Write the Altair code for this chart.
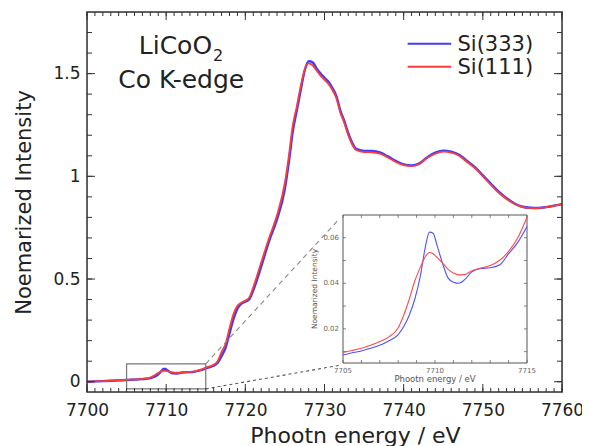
import altair as alt
import pandas as pd

FONT = "DejaVu Sans"
BLUE = "#3d3dff"
RED = "#ff3a3a"
TXT = "#222222"

# ---------------- data ----------------
low_E = [7700, 7701, 7702, 7703, 7704]
low_blue = [0.000, 0.0015, 0.003, 0.0045, 0.0065]
low_red = [0.000, 0.002, 0.003, 0.005, 0.007]

pre_E = [7705, 7705.5, 7706, 7706.5, 7707, 7707.5, 7708, 7708.3, 7708.6, 7708.9,
         7709.2, 7709.5, 7709.7, 7709.9, 7710.1, 7710.4, 7710.7, 7711, 7711.3, 7711.6,
         7712, 7712.5, 7713, 7713.5, 7714, 7714.5, 7715]
pre_red = [0.0096, 0.0105, 0.0115, 0.0128, 0.0144, 0.0165, 0.0205, 0.026, 0.033, 0.041,
           0.047, 0.052, 0.0535, 0.053, 0.0515, 0.049, 0.0462, 0.0445, 0.0437, 0.0438,
           0.0455, 0.0467, 0.0478, 0.050, 0.054, 0.060, 0.069]
pre_blue = [0.0085, 0.0095, 0.0103, 0.0115, 0.0128, 0.0148, 0.0175, 0.021, 0.026, 0.033,
            0.043, 0.057, 0.0625, 0.062, 0.057, 0.049, 0.0425, 0.0405, 0.040, 0.0415,
            0.045, 0.0465, 0.0468, 0.048, 0.053, 0.058, 0.065]

edge_E = [7715.5, 7716, 7716.5, 7717, 7717.5, 7718, 7718.5, 7719, 7719.5, 7720, 7720.5, 7721,
          7722, 7723, 7724, 7725,
          7725.5, 7726, 7726.5, 7727, 7727.5, 7728, 7728.5, 7729, 7729.5, 7730, 7730.5, 7731,
          7731.5, 7732, 7732.5, 7733, 7733.5,
          7734, 7735, 7736, 7737, 7738, 7739, 7740, 7741, 7742, 7743, 7744, 7745, 7746, 7747,
          7748, 7749, 7750, 7751, 7752, 7753, 7754, 7755, 7756, 7757, 7758, 7759, 7760]
edge_red = [0.075, 0.083, 0.10, 0.145, 0.185, 0.26, 0.33, 0.37, 0.385, 0.395, 0.41, 0.46,
            0.58, 0.70, 0.81, 0.97,
            1.10, 1.25, 1.34, 1.44, 1.52, 1.55, 1.54, 1.515, 1.49, 1.47, 1.45, 1.42,
            1.38, 1.31, 1.26, 1.20, 1.155,
            1.128, 1.118, 1.117, 1.11, 1.092, 1.07, 1.055, 1.05, 1.06, 1.09, 1.11, 1.12, 1.115, 1.10,
            1.07, 1.04, 1.00, 0.96, 0.92, 0.89, 0.865, 0.85, 0.845, 0.845, 0.85, 0.857, 0.865]
edge_blue = [0.071, 0.078, 0.092, 0.125, 0.165, 0.235, 0.305, 0.355, 0.38, 0.39, 0.402, 0.445,
             0.56, 0.685, 0.79, 0.94,
             1.07, 1.22, 1.32, 1.42, 1.515, 1.56, 1.555, 1.525, 1.50, 1.48, 1.46, 1.43,
             1.39, 1.32, 1.27, 1.21, 1.163,
             1.134, 1.124, 1.123, 1.116, 1.097, 1.075, 1.058, 1.053, 1.063, 1.093, 1.115, 1.125, 1.12, 1.105,
             1.075, 1.045, 1.005, 0.965, 0.925, 0.893, 0.868, 0.852, 0.847, 0.846, 0.85, 0.857, 0.865]

series_names = ["Si(333)", "Si(111)"]
series_colors = [BLUE, RED]

x_major = [7700, 7710, 7720, 7730, 7740, 7750, 7760]
x_minor = list(range(7700, 7761))
y_major = [0, 0.5, 1, 1.5]
y_minor = [round(0.1 * i, 1) for i in range(0, 18)]

inset_x_labels = [7705, 7710, 7715]
inset_x_ticks = list(range(7705, 7716))
inset_y_labels = [0.02, 0.04, 0.06]
inset_y_ticks = [0.01, 0.02, 0.03, 0.04, 0.05, 0.06]

# ---------------- layout constants ----------------
W, H = 475, 380
X_DOM = [7700, 7760]
Y_DOM = [-0.05, 1.8]
IX_DOM = [7705, 7715]
IY_DOM = [0.005, 0.07]
IX_RANGE = [256, 440]
IY_RANGE = [351, 203]

main_df = pd.DataFrame({
    "E": low_E + pre_E + edge_E,
    "blue": low_blue + pre_blue + edge_blue,
    "red": low_red + pre_red + edge_red,
})
inset_df = pd.DataFrame({"E": pre_E, "blue": pre_blue, "red": pre_red})

xs = alt.Scale(domain=X_DOM, nice=False, zero=False)
ys = alt.Scale(domain=Y_DOM, nice=False, zero=False)
ixs = alt.Scale(domain=IX_DOM, range=IX_RANGE, nice=False, zero=False)
iys = alt.Scale(domain=IY_DOM, range=IY_RANGE, nice=False, zero=False)

x_axis = alt.Axis(values=x_major, format="d", ticks=False, domain=False, grid=False,
                  labelFont=FONT, labelFontSize=17, labelColor=TXT, labelPadding=10,
                  labelFlush=False, orient="bottom",
                  title="Phootn energy / eV", titleFont=FONT, titleFontSize=22,
                  titleFontWeight="normal", titleColor=TXT, titleX=268, titleY=50,
                  titleBaseline="alphabetic", titleAlign="center")
y_axis = alt.Axis(values=y_major, format="~g", ticks=False, domain=False, grid=False,
                  labelFont=FONT, labelFontSize=17, labelColor=TXT, labelPadding=7,
                  orient="left",
                  title="Noemarized Intensity", titleFont=FONT, titleFontSize=21,
                  titleFontWeight="normal", titleColor=TXT, titleX=-63, titleY=190,
                  titleAngle=270, titleBaseline="middle", titleAlign="center")

base = alt.Chart(main_df)

blue_line = base.mark_line(color=BLUE, strokeWidth=2.4, interpolate="monotone", clip=True).encode(
    x=alt.X("E:Q", scale=xs, axis=x_axis),
    y=alt.Y("blue:Q", scale=ys, axis=y_axis),
)
red_line = base.mark_line(color=RED, strokeWidth=1.8, interpolate="monotone", clip=True).encode(
    x=alt.X("E:Q", scale=xs, axis=None),
    y=alt.Y("red:Q", scale=ys, axis=None),
)

# zoom box and connectors
box_df = pd.DataFrame({"x": [7705], "x2": [7715], "y": [-0.035], "y2": [0.087]})
box = alt.Chart(box_df).mark_rect(fill=None, stroke="#777777", strokeWidth=1.2).encode(
    x=alt.X("x:Q", scale=xs, axis=None), x2="x2:Q",
    y=alt.Y("y:Q", scale=ys, axis=None), y2="y2:Q")

dash_df = pd.DataFrame({"x": [7715], "x2": [7731.8], "y": [0.087], "y2": [0.79]})
dashed = alt.Chart(dash_df).mark_rule(color="#888888", strokeWidth=1.1, strokeDash=[5, 4]).encode(
    x=alt.X("x:Q", scale=xs, axis=None), x2="x2:Q",
    y=alt.Y("y:Q", scale=ys, axis=None), y2="y2:Q")
dot_df = pd.DataFrame({"x": [7715], "x2": [7731.9], "y": [-0.035], "y2": [0.08]})
dotted = alt.Chart(dot_df).mark_rule(color="#555555", strokeWidth=1.1, strokeDash=[3, 3]).encode(
    x=alt.X("x:Q", scale=xs, axis=None), x2="x2:Q",
    y=alt.Y("y:Q", scale=ys, axis=None), y2="y2:Q")

# inward ticks on all four sides
TICK = "#333333"
def xticks(vals, length):
    d = pd.DataFrame({"v": vals})
    bot = alt.Chart(d).mark_rule(color=TICK, strokeWidth=1).encode(
        x=alt.X("v:Q", scale=xs, axis=None), y=alt.value(H), y2=alt.value(H - length))
    top = alt.Chart(d).mark_rule(color=TICK, strokeWidth=1).encode(
        x=alt.X("v:Q", scale=xs, axis=None), y=alt.value(0), y2=alt.value(length))
    return [bot, top]

def yticks(vals, length):
    d = pd.DataFrame({"v": vals})
    left = alt.Chart(d).mark_rule(color=TICK, strokeWidth=1).encode(
        y=alt.Y("v:Q", scale=ys, axis=None), x=alt.value(0), x2=alt.value(length))
    right = alt.Chart(d).mark_rule(color=TICK, strokeWidth=1).encode(
        y=alt.Y("v:Q", scale=ys, axis=None), x=alt.value(W), x2=alt.value(W - length))
    return [left, right]

tick_layers = xticks(x_minor, 4) + xticks(x_major, 8) + yticks(y_minor, 5) + yticks(y_major, 8)

# frame
frame_main = alt.Chart(pd.DataFrame({"x": [X_DOM[0]], "x2": [X_DOM[1]], "y": [Y_DOM[0]], "y2": [Y_DOM[1]]})).mark_rect(
    fill=None, stroke="#333333", strokeWidth=1.5).encode(
    x=alt.X("x:Q", scale=xs, axis=None), x2="x2:Q",
    y=alt.Y("y:Q", scale=ys, axis=None), y2="y2:Q")

# annotation text
ann1 = alt.Chart(pd.DataFrame({"x": [7715.8], "y": [1.597], "t": ["LiCoO"]})).mark_text(
    font=FONT, fontSize=25, color=TXT, align="right", baseline="alphabetic").encode(
    x=alt.X("x:Q", scale=xs, axis=None), y=alt.Y("y:Q", scale=ys, axis=None), text="t:N")
ann2 = alt.Chart(pd.DataFrame({"x": [7715.9], "y": [1.563], "t": ["2"]})).mark_text(
    font=FONT, fontSize=16, color=TXT, align="left", baseline="alphabetic").encode(
    x=alt.X("x:Q", scale=xs, axis=None), y=alt.Y("y:Q", scale=ys, axis=None), text="t:N")
ann3 = alt.Chart(pd.DataFrame({"x": [7711.9], "y": [1.432], "t": ["Co K-edge"]})).mark_text(
    font=FONT, fontSize=25, color=TXT, align="center", baseline="alphabetic").encode(
    x=alt.X("x:Q", scale=xs, axis=None), y=alt.Y("y:Q", scale=ys, axis=None), text="t:N")

# legend
leg_df = pd.DataFrame({"s": series_names, "x1": [7740.5, 7740.5], "x2": [7746.0, 7746.0],
                       "y": [1.646, 1.534], "tx": [7746.8, 7746.8], "ty": [1.612, 1.500]})
color_scale = alt.Scale(domain=series_names, range=series_colors)
leg_lines = alt.Chart(leg_df).mark_rule(strokeWidth=2).encode(
    x=alt.X("x1:Q", scale=xs, axis=None), x2="x2:Q",
    y=alt.Y("y:Q", scale=ys, axis=None),
    color=alt.Color("s:N", scale=color_scale, legend=None))
leg_text = alt.Chart(leg_df).mark_text(font=FONT, fontSize=21, color=TXT, align="left",
                                       baseline="alphabetic").encode(
    x=alt.X("tx:Q", scale=xs, axis=None), y=alt.Y("ty:Q", scale=ys, axis=None), text="s:N")

main_layers = [blue_line, red_line, box, dashed, dotted, *tick_layers, frame_main,
               ann1, ann2, ann3, leg_lines, leg_text]

# ---------------- inset ----------------
ITXT = "#666666"
frame_df = pd.DataFrame({"x": [IX_DOM[0]], "x2": [IX_DOM[1]], "y": [IY_DOM[0]], "y2": [IY_DOM[1]]})
iframe = alt.Chart(frame_df).mark_rect(fill="white", stroke="#555555", strokeWidth=1).encode(
    x=alt.X("x:Q", scale=ixs, axis=None), x2="x2:Q",
    y=alt.Y("y:Q", scale=iys, axis=None), y2="y2:Q")

ibase = alt.Chart(inset_df)
iblue = ibase.mark_line(color="#5050ff", strokeWidth=1.1, interpolate="monotone", clip=True).encode(
    x=alt.X("E:Q", scale=ixs, axis=None), y=alt.Y("blue:Q", scale=iys, axis=None))
ired = ibase.mark_line(color="#ff4a4a", strokeWidth=1.1, interpolate="monotone", clip=True).encode(
    x=alt.X("E:Q", scale=ixs, axis=None), y=alt.Y("red:Q", scale=iys, axis=None))

ITICK = "#666666"
ixt = pd.DataFrame({"v": inset_x_ticks})
iyt = pd.DataFrame({"v": inset_y_ticks})
i_ticks = [
    alt.Chart(ixt).mark_rule(color=ITICK, strokeWidth=0.8).encode(
        x=alt.X("v:Q", scale=ixs, axis=None), y=alt.value(IY_RANGE[0]), y2=alt.value(IY_RANGE[0] - 3)),
    alt.Chart(ixt).mark_rule(color=ITICK, strokeWidth=0.8).encode(
        x=alt.X("v:Q", scale=ixs, axis=None), y=alt.value(IY_RANGE[1]), y2=alt.value(IY_RANGE[1] + 3)),
    alt.Chart(iyt).mark_rule(color=ITICK, strokeWidth=0.8).encode(
        y=alt.Y("v:Q", scale=iys, axis=None), x=alt.value(IX_RANGE[0]), x2=alt.value(IX_RANGE[0] + 3)),
    alt.Chart(iyt).mark_rule(color=ITICK, strokeWidth=0.8).encode(
        y=alt.Y("v:Q", scale=iys, axis=None), x=alt.value(IX_RANGE[1]), x2=alt.value(IX_RANGE[1] - 3)),
]

ixl = alt.Chart(pd.DataFrame({"v": inset_x_labels})).mark_text(
    font=FONT, fontSize=7, color=ITXT, align="center", baseline="alphabetic").encode(
    x=alt.X("v:Q", scale=ixs, axis=None), y=alt.value(IY_RANGE[0] + 10),
    text=alt.Text("v:Q", format="d"))
iyl = alt.Chart(pd.DataFrame({"v": inset_y_labels})).mark_text(
    font=FONT, fontSize=7, color=ITXT, align="right", baseline="middle").encode(
    y=alt.Y("v:Q", scale=iys, axis=None), x=alt.value(IX_RANGE[0] - 4),
    text=alt.Text("v:Q", format=".2f"))
ixtitle = alt.Chart(pd.DataFrame({"v": [7710], "t": ["Phootn energy / eV"]})).mark_text(
    font=FONT, fontSize=8.5, color="#555555", align="center", baseline="alphabetic").encode(
    x=alt.X("v:Q", scale=ixs, axis=None), y=alt.value(IY_RANGE[0] + 19), text="t:N")
iytitle = alt.Chart(pd.DataFrame({"v": [0.0375], "t": ["Noemarized Intensity"]})).mark_text(
    font=FONT, fontSize=7.5, color="#555555", align="center", baseline="middle", angle=270).encode(
    y=alt.Y("v:Q", scale=iys, axis=None), x=alt.value(IX_RANGE[0] - 28), text="t:N")

inset_layers = [iframe, iblue, ired, *i_ticks, ixl, iyl, ixtitle, iytitle]

chart = alt.layer(*main_layers, *inset_layers).resolve_scale(
    x="independent", y="independent", color="independent").properties(
    width=W, height=H,
    autosize=alt.AutoSizeParams(type="none"),
    padding={"left": 79, "top": 4, "right": 20, "bottom": 54},
).configure_view(stroke=None).configure(background="white")

chart.save("out.html", embed_options={"renderer": "svg", "actions": False})
